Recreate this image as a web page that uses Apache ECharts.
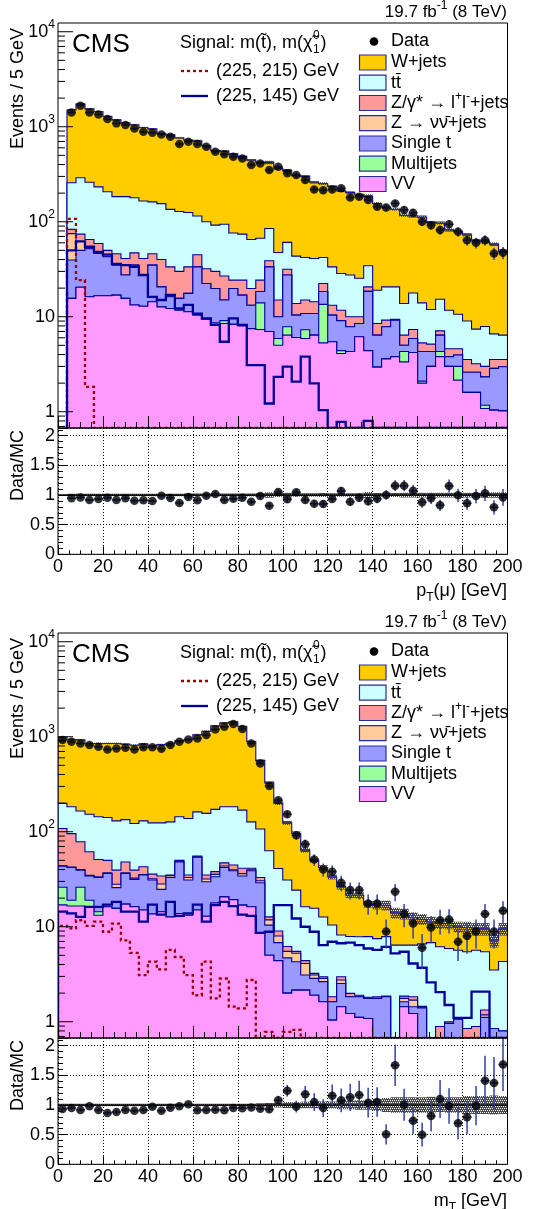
<!DOCTYPE html>
<html>
<head>
<meta charset="utf-8">
<script src="https://cdn.jsdelivr.net/npm/echarts@6/dist/echarts.min.js"></script>
<style>
html,body{margin:0;padding:0;background:#fff;}
#chart{width:542px;height:1209px;}
</style>
</head>
<body>
<div id="chart"></div>
<script>
// ================= DATA =================
// Panel 1: muon pT, 4 GeV bins (lower edges)
const ptBinLow = [4,8,12,16,20,24,28,32,36,40,44,48,52,56,60,64,68,72,76,80,84,88,92,96,100,104,108,112,116,120,124,128,132,136,140,144,148,152,156,160,164,168,172,176,180,184,188,192,196];
const ptW   = [1243,1440,1280,1207,1073,996,916,871,815,788,695,685,632,595,595,530,468,461,439,411,380,353,335,317.5,284.4,261.6,258,219,210,201.5,183.5,175.5,166.6,150.6,136,121.4,114.8,103.2,97.2,98,86.1,81.7,70.3,68.4,64,55.6,54.1,51.4,42.6];
const ptTT  = [174,216,195,174,157,138,143,132,124,116,115,101.5,98,91.5,70,68,62,67.2,51.7,49.7,45.2,42.7,46.1,32.5,29,29.6,27,26.6,19.6,20.3,16.8,17.5,15.4,13.8,10.5,11.4,11.2,7.4,10.45,8.7,6.75,8.2,7.1,6.0,5.45,4.2,4.9,3.05,2.85];
const ptDY  = [8,12,13,12.6,7.2,11.1,13.5,12.1,13.5,11.1,19.4,17.3,14.4,15.9,11.5,9.6,10.2,11.8,4.5,7.4,6.6,5.9,5.4,5.0,4.1,3.4,4.2,3.6,4.0,2.8,2.6,2.15,1.5,2.1,2.1,1.35,0.2,1.4,1.45,1.0,0.85,0.7,0.8,0.65,0.95,0.6,0.67,0.69,0.57];
const ptZnn = [35.5,12,0,0,0,0,0,0,0,0,0,0,0,0,0,0,0,0,0,0,0,0,0,0,0,0,0,0,0,0,0,0,0,0,0,0,0,0,0,0,0,0,0,0,0,0,0,0,0];
const ptST  = [23.9,29.6,35.8,29.8,26.2,18,11.9,21.6,14.6,20.5,7.9,4.0,3.9,6.3,23.1,13.0,11.2,5.9,11.5,8.9,5.7,4.4,26.5,4.1,19.65,4.35,3.5,4.4,4.9,4.95,4.7,3.55,2.35,14.1,3.45,4.25,5.4,0.7,1.7,2.2,1.3,2.1,0.8,0.95,1.0,1.0,1.16,1.82,1.96];
const ptMJ  = [0,0,0,0,0,0,0,0,0,0,0,0,0,0,0,0,0,0.6,0,0,0,6.65,0,0.9,1.45,0,1.4,0,8.2,0,0.3,0,0,0,0,0,0,0.95,0,0.1,0,0.5,0,0.85,0,0,0.09,0,0];
const ptVV  = [15.6,20.4,16.2,16.6,16.6,16.9,15.6,13.3,12.9,14.4,12.7,12.2,11.7,11.3,10.4,9.4,8.6,8.5,8.3,8.0,7.5,7.35,7.0,5.0,6.4,6.05,5.9,6.4,5.3,5.45,4.1,4.3,6.15,4.4,2.95,3.6,3.8,3.35,4.2,2.0,3.0,3.8,3.0,2.15,1.6,1.6,1.08,1.04,1.02];
const ptData    = [1416,1663,1416,1349,1205,1085,1042,960,886,865,830,785,657,695,657,615,545,512,484,464,395,411,350,379,323,311,275,219,215,219,225,180,183,169,144,141,156,133,124,100,92,82,94,78.5,64,60,64,46.4,47.2];
const ptDataErr = [38,41,38,37,35,33,32,31,30,29,29,28,26,26,26,25,23,23,22,22,20,20,19,19,18,18,17,15,15,15,15,13,14,13,12,12,12.5,11.5,11,10,9.6,9,9.7,8.9,8,7.7,8,6.8,6.9];
const ptRatio    = [0.944,0.96,0.916,0.933,0.955,0.916,0.944,0.904,0.91,0.90,0.989,0.949,0.865,0.966,0.91,0.989,1.017,0.916,0.938,0.955,0.888,0.983,0.82,1.05,0.927,1.045,0.916,0.854,0.848,0.933,1.067,0.888,0.955,0.893,0.938,1.0,1.157,1.157,1.073,0.876,0.944,0.826,1.152,0.994,0.86,0.983,1.028,0.792,0.96];
const ptRatioErr = [0.025,0.024,0.025,0.026,0.027,0.028,0.029,0.03,0.031,0.031,0.033,0.034,0.035,0.036,0.037,0.038,0.04,0.041,0.043,0.045,0.048,0.047,0.045,0.05,0.052,0.058,0.057,0.058,0.06,0.062,0.07,0.068,0.072,0.07,0.078,0.08,0.09,0.095,0.095,0.09,0.095,0.095,0.11,0.11,0.11,0.12,0.13,0.12,0.14];
const ptMcRelUnc = [0.02,0.02,0.02,0.02,0.02,0.02,0.02,0.02,0.02,0.02,0.02,0.02,0.02,0.025,0.025,0.025,0.025,0.025,0.025,0.025,0.025,0.03,0.045,0.035,0.04,0.03,0.03,0.03,0.035,0.03,0.03,0.03,0.03,0.05,0.035,0.035,0.035,0.04,0.04,0.04,0.04,0.04,0.04,0.04,0.04,0.04,0.045,0.045,0.045];
const ptSig215 = [107,24.3,1.83,0,0,0,0,0,0,0,0,0,0,0,0,0,0,0,0,0,0,0,0,0,0,0,0,0,0,0,0,0,0,0,0,0,0,0,0,0,0,0,0,0,0,0,0,0,0];
const ptSig145 = [50,62,54.5,48,45,36,35,33.5,27.5,16.2,15,17,12.2,13.3,10.8,9.6,8.2,5.45,9.6,8.2,3.1,3.1,1.22,2.33,2.98,2.07,3.8,1.99,1.04,0,0.78,0,0,0.8,0,0,0,0,0,0,0,0,0,0,0,0,0,0,0];

// Panel 2: mT, 4 GeV bins (lower edges)
const mtBinLow = [0,4,8,12,16,20,24,28,32,36,40,44,48,52,56,60,64,68,72,76,80,84,88,92,96,100,104,108,112,116,120,124,128,132,136,140,144,148,152,156,160,164,168,172,176,180,184,188,192,196];
const mtW   = [786,752,760,697,706,709,720,701,693,710,676,701,728,761,792,888,984,1128,1217,1247,1111,763,453,265,159,93,71.7,47.8,34.4,29.3,23.1,18.3,13.65,13.65,9.45,9.4,8.95,7.6,7.3,6.1,5.4,4.4,4.65,4.9,4.35,4.35,3.85,4.05,3.7,5.2];
const mtTT  = [91,87.5,86.5,91.4,93,91,90.6,86,82.6,87.2,88.2,89.8,92,94,103,106.7,121,134,136,138.4,127.8,85.8,74,50.3,32,24.8,18.8,11.8,12.4,9.7,8.6,5.2,5.9,5.95,6.05,5.67,6.0,6.4,4.54,4.57,5.15,6.8,5.26,4.9,4.59,4.6,4.76,4.12,2.65,3.5];
const mtDY  = [64.1,53,38.6,26.9,17.5,13.1,11.4,11.1,6.9,7.3,3.8,6,0.5,1,2,1.3,3.2,2.4,3.5,4.8,5,1.4,2.5,0.9,1.0,0.7,0.25,0.3,0.13,0.11,0.21,0.22,0.16,0.07,0.05,0.07,0.03,0,0.1,0.14,0.05,0,0.89,0.04,0,0.85,0.89,0.15,0,0];
const mtZnn = [0.5,0.5,0.5,0.5,0.5,0.5,2.2,0.5,1.0,0.5,1.0,3.5,1.5,1.0,2.0,0,2.0,2.0,1.5,1.0,2.0,1.0,1.5,1.4,1.2,0.8,0.97,1.0,0.24,0.22,0,0.22,0,0,0,0,0,0,0.14,0.25,0,0,0,0,0,0,0,0.07,0,0];
const mtST  = [17.4,23,13.4,15.2,18.6,20.2,10.2,19.1,15.3,20,17.4,10.3,20.3,34.2,17.8,39,16.9,15.8,21.4,19.5,17.3,22.6,20.5,5.4,2.4,2.7,2.13,0.95,0.96,1.02,0.58,1.09,0.61,0.72,0.68,1.76,1.83,0,0.18,0.22,1.4,0,0,0.96,1.06,0,0,1.11,0.85,0.8];
const mtMJ  = [9,2.5,9.5,3.0,1.2,0,0,0,0,0,0,0,0,0,0,0,0,0,0,0,0,0,0,0,0,0,0,0,0,0,0,0,0,0,0,0,0,0,0,0,0,0,0,0,0,0,0,0,0,0];
const mtVV  = [17.0,16.5,16.5,16.0,13.2,16.2,15.6,17.3,16.2,15,13.6,14.4,12.7,13.8,13.2,15,12.9,17.8,20.6,19.3,16.9,16.2,8.5,5.0,4.4,2.0,2.15,2.15,1.9,1.62,1.04,1.44,1.22,1.11,1.08,0,0,0,1.44,1.22,0,0,0,0,0,0,0,0,0,0];
const mtData    = [923,886,851,817,785,736,754,766,736,773,773,748,817,886,937,960,1042,1194,1274,1359,1205,851,524,303,215,153,92,74,51,40,38,29,24.3,24.3,17.6,17.6,8.9,23.4,13.6,10.8,6.0,9.8,11.7,11.9,6.95,8.0,8.9,13.6,8.9,14.7];
const mtDataErr = [30,30,29,29,28,27,27,28,27,28,28,27,29,30,31,31,32,35,36,37,35,29,23,17,15,12,9.6,8.6,7.1,6.3,6.2,5.4,4.9,4.9,4.2,4.2,3.0,4.8,3.7,3.3,2.4,3.1,3.4,3.4,2.6,2.8,3.0,3.7,3.0,3.8];
const mtRatio    = [0.933,0.949,0.916,0.978,0.916,0.865,0.882,0.916,0.904,0.916,0.972,0.904,0.955,0.978,1.011,0.91,0.916,0.921,0.91,0.949,0.944,0.96,0.938,0.927,1.079,1.242,0.972,1.18,1.05,0.949,1.157,1.079,1.129,1.169,1.039,1.05,0.506,1.669,1.006,0.736,0.5,0.815,1.101,0.983,0.691,0.792,0.989,1.41,1.371,1.685];
const mtRatioErr = [0.03,0.03,0.03,0.033,0.032,0.032,0.032,0.033,0.033,0.033,0.035,0.033,0.034,0.034,0.034,0.032,0.03,0.028,0.026,0.026,0.028,0.033,0.04,0.052,0.075,0.1,0.1,0.14,0.15,0.15,0.19,0.2,0.23,0.24,0.25,0.25,0.17,0.35,0.27,0.22,0.2,0.26,0.32,0.3,0.27,0.28,0.33,0.42,0.44,0.45];
const mtMcRelUnc = [0.02,0.02,0.02,0.02,0.02,0.02,0.02,0.02,0.02,0.02,0.02,0.02,0.02,0.02,0.02,0.02,0.02,0.02,0.02,0.02,0.02,0.02,0.03,0.035,0.04,0.05,0.05,0.055,0.055,0.06,0.06,0.07,0.07,0.08,0.08,0.1,0.12,0.13,0.13,0.13,0.13,0.14,0.12,0.13,0.13,0.15,0.15,0.15,0.16,0.15];
const mtSig215 = [10.2,9.6,11.7,10.2,11.3,8.85,10.8,7.2,5.3,3.1,4.3,3.55,5.7,4.8,3.1,1.9,4.3,1.76,2.85,1.44,1.38,2.75,0,0.78,0,0.78,0.82,0,0,0,0,0,0,0,0,0,0,0,0,0,0,0,0,0,0,0,0,0,0,0];
const mtSig145 = [14.4,13.8,12.7,16.2,16.2,17.1,18.3,14.4,14.4,11.3,17.1,13.4,18.3,13,13.8,17.1,11.3,16.9,18.3,16.5,13.4,13,8.6,8.85,16.9,16.9,12.2,10,8.85,6.4,6.95,6.7,6.8,6.4,5.9,5.7,6.15,5.25,5.45,4.1,3.7,2.6,2.05,1.5,1.1,1.1,2.07,2.07,0,0];

// Labels
const processNames = ['W+jets', 'tt\u0304', 'Z/\u03B3* \u2192 l{sup|+}l{sup|-}+jets', 'Z \u2192 \u03BD\u03BD\u0304+jets', 'Single t', 'Multijets', 'VV'];
const xTitles = ['p{sub|T}(\u03BC) [GeV]', 'm{sub|T} [GeV]'];
const ratioTickLabels = ['0', '0.5', '1', '1.5', '2'];

// ================= STYLE / LAYOUT =================
const FONT = '"Liberation Sans", Arial, Helvetica, sans-serif';
const COL = { W:'#FFCC00', TT:'#CCFFFF', DY:'#FF9999', ZNN:'#FFCC99', ST:'#9999FF', MJ:'#99FF99', VV:'#FF99FF' };
const NAVY = '#000099';
const Y_MIN = 0.674, Y_MAX = 12360, R_MAX = 2.13, BIN_W = 4;
const RICH = {
  sup: { fontSize: 12, lineHeight: 12, verticalAlign: 'top', fontFamily: FONT, color: '#000' },
  sub: { fontSize: 12, lineHeight: 12, verticalAlign: 'bottom', fontFamily: FONT, color: '#000' }
};

function hatchPattern() {
  const c = document.createElement('canvas'); c.width = 4; c.height = 4;
  const g = c.getContext('2d');
  g.fillStyle = 'rgba(55,55,55,0.92)';
  g.fillRect(0, 0, 4, 4);
  [[0,0],[2,0],[1,2],[3,2]].forEach(p => g.clearRect(p[0], p[1], 1, 1));
  return { type: 'pattern', image: c, repeat: 'repeat' };
}
const HATCH = hatchPattern();

const panels = [
  { off: 0, lows: ptBinLow, W: ptW, TT: ptTT, DY: ptDY, ZNN: ptZnn, ST: ptST, MJ: ptMJ, VV: ptVV,
    data: ptData, dataErr: ptDataErr, ratio: ptRatio, ratioErr: ptRatioErr, unc: ptMcRelUnc,
    s215: ptSig215, s145: ptSig145, xTitle: xTitles[0] },
  { off: 610, lows: mtBinLow, W: mtW, TT: mtTT, DY: mtDY, ZNN: mtZnn, ST: mtST, MJ: mtMJ, VV: mtVV,
    data: mtData, dataErr: mtDataErr, ratio: mtRatio, ratioErr: mtRatioErr, unc: mtMcRelUnc,
    s215: mtSig215, s145: mtSig145, xTitle: xTitles[1] }
];

function cy(v) { return Math.max(v, Y_MIN); }

function stepFill(g, name, color, lows, tops) {
  return { type: 'custom', name, xAxisIndex: g, yAxisIndex: g, clip: true, silent: true, z: 2,
    data: [[lows[0], 1]],
    renderItem(params, api) {
      const n = lows.length, pts = [];
      pts.push(api.coord([lows[0], Y_MIN]));
      for (let k = 0; k < n; k++) {
        const v = cy(tops[k]);
        pts.push(api.coord([lows[k], v]), api.coord([lows[k] + BIN_W, v]));
      }
      pts.push(api.coord([lows[n - 1] + BIN_W, Y_MIN]));
      return { type: 'group', children: [
        { type: 'polygon', shape: { points: pts }, style: { fill: color, stroke: null } },
        { type: 'polyline', shape: { points: pts }, style: { fill: 'none', stroke: NAVY, lineWidth: 1.1 } }
      ]};
    }
  };
}

function stepLine(g, name, lows, vals, color, dash) {
  return { type: 'custom', name, xAxisIndex: g, yAxisIndex: g, clip: true, silent: true, z: 3,
    data: [[lows[0], 1]],
    renderItem(params, api) {
      const n = lows.length, pts = [];
      pts.push(api.coord([lows[0], Y_MIN]));
      for (let k = 0; k < n; k++) {
        const v = cy(vals[k]);
        pts.push(api.coord([lows[k], v]), api.coord([lows[k] + BIN_W, v]));
      }
      pts.push(api.coord([lows[n - 1] + BIN_W, Y_MIN]));
      return { type: 'polyline', shape: { points: pts },
        style: { fill: 'none', stroke: color, lineWidth: 2.3, lineDash: dash || null } };
    }
  };
}

function bandSeries(g, lows, centers, unc, isRatio) {
  return { type: 'custom', xAxisIndex: g, yAxisIndex: g, clip: true, silent: true, z: 3,
    data: [[lows[0], 1]],
    renderItem(params, api) {
      const ch = [];
      lows.forEach((lo, k) => {
        const c = isRatio ? 1 : centers[k];
        const hi = c * (1 + unc[k]), lw = c * (1 - unc[k]);
        const a = api.coord([lo, isRatio ? hi : cy(hi)]);
        const b = api.coord([lo + BIN_W, isRatio ? lw : cy(lw)]);
        ch.push({ type: 'rect', shape: { x: a[0], y: a[1], width: b[0] - a[0], height: b[1] - a[1] },
          style: { fill: HATCH, stroke: null } });
      });
      if (isRatio) {
        const p0 = api.coord([0, 1]), p1 = api.coord([200, 1]);
        ch.push({ type: 'line', shape: { x1: p0[0], y1: p0[1], x2: p1[0], y2: p1[1] }, style: { stroke: '#000', lineWidth: 1.6 } });
      }
      return { type: 'group', children: ch };
    }
  };
}

function errorBars(g, lows, vals, errs, isLog) {
  return { type: 'custom', xAxisIndex: g, yAxisIndex: g, clip: true, silent: true, z: 4,
    data: lows.map((lo, k) => [lo + BIN_W / 2, vals[k], errs[k]]),
    renderItem(params, api) {
      const x = api.value(0), v = api.value(1), e = api.value(2);
      const lo = isLog ? cy(v - e) : v - e;
      const a = api.coord([x, v + e]), b = api.coord([x, lo]);
      const l = api.coord([x - BIN_W / 2, v]), r = api.coord([x + BIN_W / 2, v]);
      return { type: 'group', children: [
        { type: 'line', shape: { x1: a[0], y1: a[1], x2: b[0], y2: b[1] }, style: { stroke: '#3040a8', lineWidth: 1.5 } },
        { type: 'line', shape: { x1: l[0], y1: l[1], x2: r[0], y2: r[1] }, style: { stroke: '#3040a8', lineWidth: 1.5 } }
      ]};
    }
  };
}

function points(g, lows, vals) {
  return { type: 'scatter', xAxisIndex: g, yAxisIndex: g, symbol: 'circle', symbolSize: 8.5, z: 5, silent: true,
    itemStyle: { color: '#000' },
    data: lows.map((lo, k) => [lo + BIN_W / 2, vals[k]]) };
}

function logMinorTicks(g) {
  return { type: 'custom', xAxisIndex: g, yAxisIndex: g, silent: true, z: 6, data: [[0, 1]],
    renderItem(params, api) {
      const ch = [];
      for (let n = -1; n <= 4; n++) for (let m = 1; m <= 9; m++) {
        const v = m * Math.pow(10, n);
        if (v <= Y_MIN || v >= Y_MAX) continue;
        const p = api.coord([0, v]);
        const len = (m === 1) ? 15 : 7;
        ch.push({ type: 'line', shape: { x1: p[0], y1: p[1], x2: p[0] + len, y2: p[1] }, style: { stroke: '#000', lineWidth: 1 } });
      }
      return { type: 'group', children: ch };
    }
  };
}

function cumulative(list) {
  const n = list[0].length; let run = new Array(n).fill(0); const out = [];
  list.forEach(arr => { run = run.map((r, i) => r + arr[i]); out.push(run.slice()); });
  return out;
}

// ================= BUILD =================
const grids = [], xAxes = [], yAxes = [], series = [], graphics = [];
const txt = (x, y, text, o) => Object.assign({ type: 'text', x, y, z: 100, silent: true,
  style: Object.assign({ text, fontFamily: FONT, fontSize: 18, fill: '#000', align: 'left', verticalAlign: 'middle', lineHeight: 24, rich: RICH }, o || {}) });
const mctx = document.createElement('canvas').getContext('2d');
function tw(s, size) { mctx.font = size + 'px ' + FONT; return mctx.measureText(s).width; }

panels.forEach((P, p) => {
  const gm = 2 * p, gr = 2 * p + 1, o = P.off;
  grids.push({ left: 58, top: 23 + o, width: 449.5, height: 405, show: true, borderColor: '#000', borderWidth: 1, backgroundColor: 'transparent', containLabel: false, outerBoundsMode: 'none', z: 20 });
  grids.push({ left: 58, top: 428 + o, width: 449.5, height: 126.3, show: true, borderColor: '#000', borderWidth: 1, backgroundColor: 'transparent', containLabel: false, outerBoundsMode: 'none', z: 20 });

  xAxes.push({ gridIndex: gm, type: 'value', min: 0, max: 200, interval: 20, z: 20,
    axisLine: { show: false }, axisLabel: { show: false }, splitLine: { show: false },
    axisTick: { inside: true, length: 12, lineStyle: { color: '#000', width: 1 } },
    minorTick: { show: true, splitNumber: 4, length: 6, lineStyle: { color: '#000', width: 1 } } });
  xAxes.push({ gridIndex: gr, type: 'value', min: 0, max: 200, interval: 20, z: 20,
    axisLine: { show: false },
    axisLabel: { show: true, fontSize: 18, fontFamily: FONT, color: '#000', margin: 4 },
    splitLine: { show: true, lineStyle: { color: '#000', width: 1, type: [1, 2] } },
    axisTick: { inside: true, length: 8, lineStyle: { color: '#000', width: 1 } },
    minorTick: { show: true, splitNumber: 4, length: 4, lineStyle: { color: '#000', width: 1 } } });

  yAxes.push({ gridIndex: gm, type: 'log', logBase: 10, min: Y_MIN, max: Y_MAX, z: 20,
    axisLine: { show: false }, splitLine: { show: false }, axisTick: { show: false }, minorTick: { show: false },
    axisLabel: { show: true, fontSize: 18, fontFamily: FONT, color: '#000', margin: 3, lineHeight: 26, rich: RICH,
      formatter: v => { const l = Math.log10(v), r = Math.round(l);
        if (Math.abs(l - r) > 1e-6) return '';
        if (r === 0) return '1'; if (r === 1) return '10'; return '10{sup|' + r + '}'; } } });
  yAxes.push({ gridIndex: gr, type: 'value', min: 0, max: R_MAX, interval: 0.5, z: 20,
    axisLine: { show: false },
    splitLine: { show: true, lineStyle: { color: '#000', width: 1, type: [1, 2] } },
    axisTick: { inside: true, length: 10, lineStyle: { color: '#000', width: 1 } },
    minorTick: { show: true, splitNumber: 5, length: 5, lineStyle: { color: '#000', width: 1 } },
    axisLabel: { show: true, fontSize: 18, fontFamily: FONT, color: '#000', margin: 3, showMaxLabel: false,
      formatter: v => { const i = Math.round(v / 0.5); return Math.abs(v - i * 0.5) < 1e-6 && i < ratioTickLabels.length ? ratioTickLabels[i] : ''; } } });

  // stacked backgrounds (bottom-up cumulative)
  const order = [['VV', P.VV], ['MJ', P.MJ], ['ST', P.ST], ['ZNN', P.ZNN], ['DY', P.DY], ['TT', P.TT], ['W', P.W]];
  const cums = cumulative(order.map(e => e[1]));
  const total = cums[cums.length - 1];
  for (let i = order.length - 1; i >= 0; i--) series.push(stepFill(gm, order[i][0], COL[order[i][0]], P.lows, cums[i]));
  series.push(bandSeries(gm, P.lows, total, P.unc, false));
  series.push(stepLine(gm, 'sig215', P.lows, P.s215, '#990000', [3, 3]));
  series.push(stepLine(gm, 'sig145', P.lows, P.s145, '#000099', null));
  series.push(errorBars(gm, P.lows, P.data, P.dataErr, true));
  series.push(points(gm, P.lows, P.data));
  series.push(logMinorTicks(gm));
  // ratio
  series.push(bandSeries(gr, P.lows, null, P.unc, true));
  series.push(errorBars(gr, P.lows, P.ratio, P.ratioErr, false));
  series.push(points(gr, P.lows, P.ratio));

  // ---- texts / legends ----
  graphics.push(txt(507, 12 + o, '19.7 fb{sup|-1} (8 TeV)', { align: 'right', fontSize: 17 }));
  graphics.push(txt(72, 45 + o, 'CMS', { fontSize: 26, lineHeight: 30 }));
  graphics.push(Object.assign(txt(18, 28 + o, 'Events / 5 GeV', { align: 'right' }), { rotation: Math.PI / 2 }));
  graphics.push(Object.assign(txt(18, 430 + o, 'Data/MC', { align: 'right' }), { rotation: Math.PI / 2 }));
  graphics.push(txt(507, 591 + o, P.xTitle, { align: 'right', lineHeight: 26 }));

  const head = 'Signal: m(t\u0303), m(\u03C7\u0303';
  const hw = tw(head, 18);
  graphics.push(txt(180, 43 + o, head));
  graphics.push(txt(180 + hw + 0.5, 36 + o, '0', { fontSize: 12, lineHeight: 14 }));
  graphics.push(txt(180 + hw + 0.5, 50 + o, '1', { fontSize: 12, lineHeight: 14 }));
  graphics.push(txt(180 + hw + 8, 43 + o, ')'));
  graphics.push({ type: 'line', z: 100, silent: true, shape: { x1: 181, y1: 71 + o, x2: 208, y2: 71 + o }, style: { stroke: '#990000', lineWidth: 2.3, lineDash: [3, 3] } });
  graphics.push(txt(216, 71 + o, '(225, 215) GeV'));
  graphics.push({ type: 'line', z: 100, silent: true, shape: { x1: 181, y1: 96 + o, x2: 208, y2: 96 + o }, style: { stroke: '#000099', lineWidth: 2.3 } });
  graphics.push(txt(216, 96 + o, '(225, 145) GeV'));

  graphics.push({ type: 'circle', z: 100, silent: true, shape: { cx: 374, cy: 41.5 + o, r: 4.3 }, style: { fill: '#000' } });
  graphics.push(txt(391, 41.5 + o, 'Data'));
  const boxCols = [COL.W, COL.TT, COL.DY, COL.ZNN, COL.ST, COL.MJ, COL.VV];
  const rowY = [62.5, 82.7, 103, 123.2, 143.5, 163.7, 184];
  processNames.forEach((nm, i) => {
    graphics.push({ type: 'rect', z: 100, silent: true, shape: { x: 359.5, y: rowY[i] - 7.5 + o, width: 26.5, height: 15 },
      style: { fill: boxCols[i], stroke: '#2a2aa0', lineWidth: 1.2 } });
    graphics.push(txt(391, rowY[i] + o, nm));
  });
});

const chart = echarts.init(document.getElementById('chart'), null, { renderer: 'canvas' });
chart.setOption({
  animation: false,
  backgroundColor: '#fff',
  grid: grids, xAxis: xAxes, yAxis: yAxes, series, graphic: graphics
});
</script>
</body>
</html>
